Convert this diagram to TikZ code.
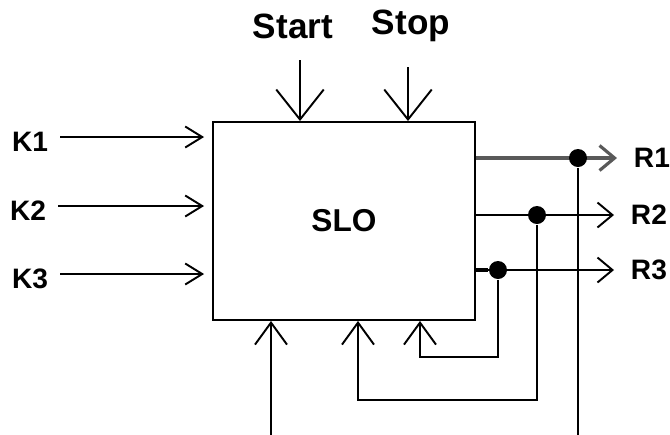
\documentclass[tikz,border=0pt]{standalone}
\usepackage{fontspec}
\newfontfamily\lblfont{Liberation Sans}
\usetikzlibrary{arrows.meta}
\begin{document}
\begin{tikzpicture}[x=0.02cm, y=-0.02cm, line width=1.1pt,
  lbl/.style={font=\lblfont\bfseries\fontsize{16}{18}\selectfont, inner sep=0pt},
  intop/.style={-{Straight Barb[length=0.6cm, width=0.95cm]}},
  inleft/.style={-{Straight Barb[length=0.34cm, width=0.42cm]}, shorten >=0.16cm},
  inbot/.style={-{Straight Barb[length=0.44cm, width=0.64cm]}},
  outarr/.style={-{Straight Barb[length=0.3cm, width=0.5cm]}, shorten >=0.32cm},
  dot/.style={circle, fill, inner sep=0pt, minimum size=0.36cm}]
  \useasboundingbox (0,0) rectangle (670,434);
  \node [draw, minimum width=5.24cm, minimum height=3.96cm, inner sep=0pt,
   font=\lblfont\bfseries\fontsize{18}{20}\selectfont] (slo) at (344,221) {SLO};
  % inputs
  \node [lbl] (k1) at (30,142) {K1};
  \node [lbl] (k2) at (28,211) {K2};
  \node [lbl] (k3) at (30,279) {K3};
  \coordinate (k1s) at (60,137);
  \coordinate (k2s) at (58,206);
  \coordinate (k3s) at (60,274);
  \draw [inleft] (k1s) -- (k1s -| slo.west);
  \draw [inleft] (k2s) -- (k2s -| slo.west);
  \draw [inleft] (k3s) -- (k3s -| slo.west);
  \node [lbl, font=\lblfont\bfseries\fontsize{20}{22}\selectfont] (start) at (293,26) {Start};
  \node [lbl, font=\lblfont\bfseries\fontsize{20}{22}\selectfont] (stop) at (411,26) {Stop};
  \coordinate (starts) at (300,60);
  \coordinate (stops) at (408,67);
  \draw [intop] (starts) -- (starts |- slo.north);
  \draw [intop] (stops) -- (stops |- slo.north);
  % outputs
  \node [lbl, anchor=west] (r1) at (633,158) {R1};
  \node [lbl, anchor=west] (r2) at (630,215) {R2};
  \node [lbl, anchor=west] (r3) at (630,270) {R3};
  \draw [outarr, line width=1.8pt, gray!70!black] (slo.east |- r1) -- (r1.west);
  \draw [outarr] (slo.east |- r2) -- (r2.west);
  \draw [outarr] (slo.east |- r3) -- (r3.west);
  \draw [line width=2.2pt] (slo.east |- r3) -- ++(12,0);
  \node [dot] (d1) at (578,158) {};
  \node [dot] (d2) at (537,215) {};
  \node [dot] (d3) at (498,270) {};
  % feedback
  \coordinate (f1) at (271,438);
  \coordinate (f2) at (358,400);
  \coordinate (f3) at (420,357);
  \draw [inbot] (d1) |- (f1) -- (f1 |- slo.south);
  \draw [inbot] (d2) |- (f2) -- (f2 |- slo.south);
  \draw [inbot] (d3) |- (f3) -- (f3 |- slo.south);
\end{tikzpicture}
\end{document}
